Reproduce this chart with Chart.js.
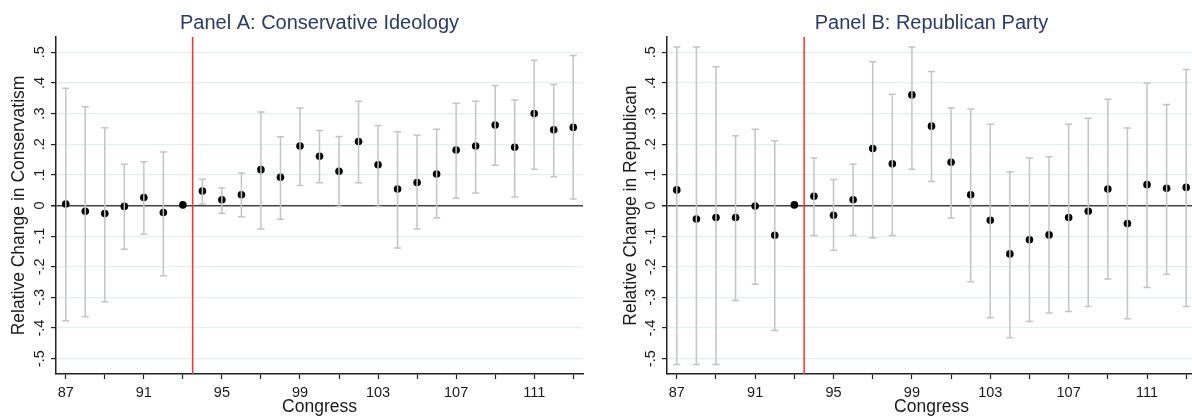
<!DOCTYPE html>
<html>
<head>
<meta charset="utf-8">
<script src="https://cdn.jsdelivr.net/npm/chart.js@4.4.1/dist/chart.umd.min.js"></script>
<style>
  html, body { margin: 0; padding: 0; background: #fff; overflow: hidden; width: 1192px; height: 419px; }
  .wrap { position: absolute; top: 0; height: 419px; }
  #wa { left: 0; width: 596px; }
  #wb { left: 596px; width: 610px; }
  canvas { display: block; }
</style>
</head>
<body>
<div class="wrap" id="wa"><canvas id="ca" width="596" height="419"></canvas></div>
<div class="wrap" id="wb"><canvas id="cb" width="610" height="419"></canvas></div>
<script>
// ---- data ----
const congress = [87, 88, 89, 90, 91, 92, 93, 94, 95, 96, 97, 98, 99, 100, 101, 102, 103, 104, 105, 106, 107, 108, 109, 110, 111, 112, 113];

const consEst = [0.005, -0.019, -0.026, -0.003, 0.026, -0.023, 0.002, 0.047, 0.019, 0.035, 0.117, 0.092, 0.194, 0.161, 0.112, 0.209, 0.133, 0.054, 0.075, 0.103, 0.181, 0.194, 0.263, 0.190, 0.300, 0.247, 0.255];
const consHi  = [0.383, 0.322, 0.254, 0.135, 0.143, 0.175, null, 0.086, 0.057, 0.106, 0.305, 0.224, 0.318, 0.245, 0.225, 0.340, 0.261, 0.241, 0.229, 0.249, 0.334, 0.340, 0.392, 0.344, 0.474, 0.395, 0.490];
const consLo  = [-0.376, -0.363, -0.314, -0.143, -0.094, -0.229, null, 0.005, -0.025, -0.037, -0.077, -0.045, 0.065, 0.074, -0.003, 0.074, -0.003, -0.139, -0.077, -0.041, 0.024, 0.041, 0.131, 0.028, 0.118, 0.094, 0.021];

const repEst = [0.051, -0.044, -0.039, -0.039, -0.002, -0.097, 0.002, 0.030, -0.032, 0.019, 0.186, 0.136, 0.361, 0.259, 0.141, 0.035, -0.048, -0.158, -0.112, -0.096, -0.039, -0.019, 0.054, -0.059, 0.068, 0.056, 0.059];
const repHi  = [0.517, 0.517, 0.453, 0.228, 0.249, 0.211, null, 0.155, 0.085, 0.135, 0.469, 0.363, 0.517, 0.437, 0.318, 0.315, 0.265, 0.110, 0.155, 0.159, 0.265, 0.285, 0.347, 0.253, 0.400, 0.330, 0.444];
const repLo  = [-0.519, -0.519, -0.519, -0.310, -0.257, -0.408, null, -0.098, -0.146, -0.098, -0.106, -0.098, 0.118, 0.078, -0.041, -0.249, -0.366, -0.432, -0.379, -0.351, -0.346, -0.330, -0.240, -0.370, -0.268, -0.224, -0.330];

const breakCongress = 93.5;

const yTickValues = [-0.5, -0.4, -0.3, -0.2, -0.1, 0, 0.1, 0.2, 0.3, 0.4, 0.5];
const yTickLabels = ['-.5', '-.4', '-.3', '-.2', '-.1', '0', '.1', '.2', '.3', '.4', '.5'];
const xTickValues = [87, 89, 91, 93, 95, 97, 99, 101, 103, 105, 107, 109, 111, 113];
const xLabelValues = [87, 91, 95, 99, 103, 107, 111];

const panelTitles = ['Panel A: Conservative Ideology', 'Panel B: Republican Party'];
const yTitles = ['Relative Change in Conservatism', 'Relative Change in Republican'];
const xTitle = 'Congress';

// ---- styling ----
Chart.defaults.font.family = "'Liberation Sans', Arial, sans-serif";
Chart.defaults.color = '#1a1a1a';

const errorBarPlugin = {
  id: 'errorBars',
  afterDatasetsDraw(chart, args, opts) {
    const {ctx, scales: {x, y}} = chart;
    const lo = opts.lo, hi = opts.hi;
    ctx.save();
    ctx.strokeStyle = '#c4c4c4';
    ctx.lineWidth = 1.5;
    for (let i = 0; i < congress.length; i++) {
      if (lo[i] == null || hi[i] == null) continue;
      const px = x.getPixelForValue(congress[i]);
      const pl = y.getPixelForValue(lo[i]);
      const ph = y.getPixelForValue(hi[i]);
      ctx.beginPath();
      ctx.moveTo(px, pl); ctx.lineTo(px, ph);
      ctx.moveTo(px - 3.5, pl); ctx.lineTo(px + 3.5, pl);
      ctx.moveTo(px - 3.5, ph); ctx.lineTo(px + 3.5, ph);
      ctx.stroke();
    }
    ctx.restore();
  }
};

const vLinePlugin = {
  id: 'vLine',
  beforeDatasetsDraw(chart) {
    const {ctx, chartArea, scales: {x}} = chart;
    const px = x.getPixelForValue(breakCongress);
    ctx.save();
    ctx.strokeStyle = '#ff3030';
    ctx.lineWidth = 1.5;
    ctx.beginPath();
    ctx.moveTo(px, chartArea.top);
    ctx.lineTo(px, chartArea.bottom);
    ctx.stroke();
    ctx.restore();
  }
};

function makePanel(id, k, est, lo, hi, yWidth, padRight, yTitlePad) {
  return new Chart(document.getElementById(id), {
    type: 'scatter',
    data: {
      datasets: [{
        data: congress.map((c, i) => ({x: c, y: est[i]})),
        backgroundColor: '#000',
        borderWidth: 0,
        pointRadius: 3.8,
        pointHoverRadius: 3.8
      }]
    },
    plugins: [vLinePlugin, errorBarPlugin],
    options: {
      responsive: false,
      animation: false,
      events: [],
      layout: { padding: { left: 0, right: padRight, top: 0, bottom: 0 } },
      plugins: {
        legend: { display: false },
        tooltip: { enabled: false },
        title: {
          display: true,
          fullSize: false,
          text: panelTitles[k],
          color: '#2b3a67',
          font: { size: 20, weight: 'normal', lineHeight: 1.2 },
          padding: { top: 11, bottom: 2 }
        },
        errorBars: { lo: lo, hi: hi }
      },
      scales: {
        x: {
          type: 'linear',
          min: 86.5,
          max: 113.5,
          afterBuildTicks: (s) => { s.ticks = xTickValues.map(v => ({value: v})); },
          afterFit: (s) => { s.height = 45; },
          ticks: {
            autoSkip: false,
            maxRotation: 0,
            minRotation: 0,
            padding: 5,
            font: { size: 14.5 },
            color: '#1a1a1a',
            callback: (v) => xLabelValues.includes(v) ? String(v) : ''
          },
          grid: { drawOnChartArea: false, drawTicks: true, tickLength: 5, tickColor: '#222', tickWidth: 1.2 },
          border: { display: true, color: '#222', width: 1.5 },
          title: {
            display: true,
            text: xTitle,
            font: { size: 17.5, lineHeight: 1 },
            color: '#1a1a1a',
            padding: { top: 0, bottom: 3 }
          }
        },
        y: {
          type: 'linear',
          min: -0.55,
          max: 0.55,
          afterBuildTicks: (s) => { s.ticks = yTickValues.map(v => ({value: v})); },
          afterFit: (s) => { s.width = yWidth; },
          ticks: {
            autoSkip: false,
            minRotation: 90,
            maxRotation: 90,
            crossAlign: 'center',
            padding: 3,
            font: { size: 14.5 },
            color: '#1a1a1a',
            callback: (v, i) => yTickLabels[i]
          },
          grid: {
            drawTicks: true,
            tickLength: 5,
            tickColor: '#222',
            color: (c) => (c.tick && c.tick.value === 0) ? '#444' : '#e6eef0',
            lineWidth: (c) => (c.tick && c.tick.value === 0) ? 1.5 : 1.2
          },
          border: { display: true, color: '#222', width: 1.5 },
          title: {
            display: true,
            text: yTitles[k],
            font: { size: 17.5, lineHeight: 1 },
            color: '#1a1a1a',
            padding: { top: yTitlePad, bottom: 0 }
          }
        }
      }
    }
  });
}

makePanel('ca', 0, consEst, consLo, consHi, 56, 13, 10);
makePanel('cb', 1, repEst, repLo, repHi, 71, 10, 26);
</script>
</body>
</html>
